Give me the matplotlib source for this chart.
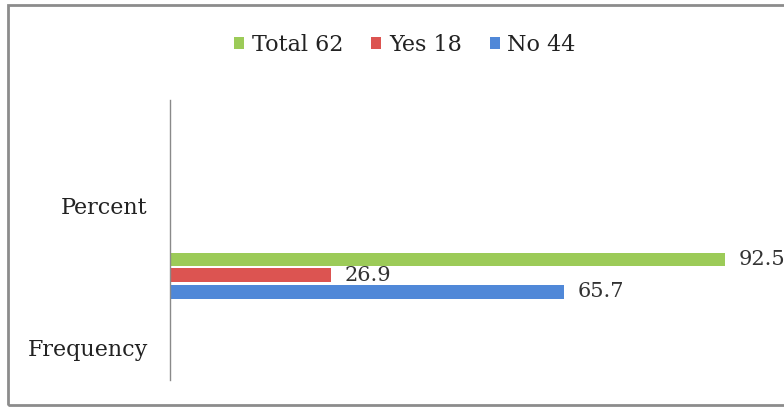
import matplotlib
matplotlib.use("Agg")
import matplotlib.pyplot as plt
from matplotlib.patches import Rectangle

categories = ["Frequency", "Percent"]
series_names = ["Total 62", "Yes 18", "No 44"]
percent_values = [92.5, 26.9, 65.7]
series_colors = ["#9ccb58", "#dc5451", "#5088d8"]

plt.rcParams["font.family"] = ["DejaVu Serif"]

fig = plt.figure(figsize=(7.84, 4.07), dpi=100)
ax = fig.add_axes([170 / 784, 1 - 380 / 407, 600 / 784, 280 / 407])

# category positions on the y axis
cat_pos = {"Frequency": 0.0, "Percent": 1.0}
group_center = 0.507
bar_h = 0.095
offsets = [0.108, 0.0, -0.118]

for name, val, col, off in zip(series_names, percent_values, series_colors, offsets):
    y = group_center + off
    ax.barh(y, val, height=bar_h, color=col, label=name, zorder=2)
    ax.text(val + 2.2, y, f"{val}", va="center", ha="left",
            fontsize=15, color="#333333", clip_on=False)

ax.set_xlim(0, 100)
ax.set_ylim(-0.232, 1.74)
ax.set_yticks([cat_pos[c] for c in categories])
ax.set_yticklabels(categories, fontsize=16, color="#222222")
ax.tick_params(axis="y", length=0, pad=16)
ax.set_xticks([])
for s in ["top", "right", "bottom"]:
    ax.spines[s].set_visible(False)
ax.spines["left"].set_color("#8a8a8a")
ax.spines["left"].set_linewidth(1.0)

leg = fig.legend(loc="center", bbox_to_anchor=(405 / 784, 1 - 45 / 407),
                 ncol=3, frameon=False, fontsize=16, handlelength=0.45,
                 handleheight=0.45, handletextpad=0.35, columnspacing=1.25)
for t in leg.get_texts():
    t.set_color("#222222")

# outer frame around the chart
fig.patches.append(Rectangle((8 / 784, 1 - 405 / 407), 1.2, 400 / 407,
                             transform=fig.transFigure, fill=False,
                             edgecolor="#8c8c8c", linewidth=2.0))

fig.savefig("out.png", dpi=100, facecolor="white")
